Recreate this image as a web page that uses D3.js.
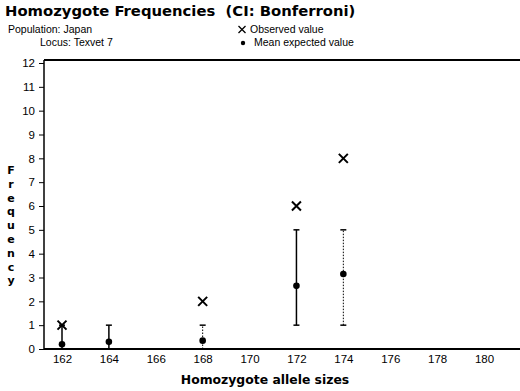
<!DOCTYPE html>
<html>
<head>
<meta charset="utf-8">
<script src="https://cdn.jsdelivr.net/npm/d3@7"></script>
<style>
  html, body { margin: 0; padding: 0; background: #fff; }
  svg { display: block; font-family: "Liberation Sans", Arial, sans-serif; }
  text { white-space: pre; }
</style>
</head>
<body>
<svg id="chart" width="520" height="391"></svg>
<script>
// Allele sizes and their homozygote frequencies
const alleles   = [162, 164, 168, 172, 174];
const observed  = [1, null, 2, 6, 8];
const expected  = [0.2, 0.3, 0.35, 2.65, 3.15];
const ciLow     = [0, 0, 0, 1, 1];
const ciHigh    = [1, 1, 1, 5, 5];
const ciDotted  = [false, false, true, false, true];

const xTicks = [162, 164, 166, 168, 170, 172, 174, 176, 178, 180];
const yTicks = [0, 1, 2, 3, 4, 5, 6, 7, 8, 9, 10, 11, 12];

const svg = d3.select("#chart");
const plotLeft = 44, plotTop = 60, plotRight = 522, plotBottom = 349;
const boldFont = "DejaVu Sans, Verdana, sans-serif";

const x = d3.scaleLinear().domain([162, 180]).range([62, 484]);
const y = d3.scaleLinear().domain([0, 12]).range([plotBottom, 63]);

// Titles
svg.append("text").attr("x", 5).attr("y", 16)
  .attr("font-family", boldFont).attr("font-size", 14.8).attr("font-weight", "bold")
  .text("Homozygote Frequencies  (CI: Bonferroni)");
svg.append("text").attr("x", 8).attr("y", 33).attr("font-size", 10.5)
  .text("Population: Japan");
svg.append("text").attr("x", 40).attr("y", 46).attr("font-size", 10.5)
  .text("Locus: Texvet 7");

// Legend
const lx = 242, ly = 29.5;
svg.append("path")
  .attr("d", `M${lx - 3.5},${ly - 3.5}L${lx + 3.5},${ly + 3.5}M${lx - 3.5},${ly + 3.5}L${lx + 3.5},${ly - 3.5}`)
  .attr("stroke", "#000").attr("stroke-width", 1.3);
svg.append("text").attr("x", 250).attr("y", 33).attr("font-size", 10.5)
  .text("Observed value");
svg.append("circle").attr("cx", 243).attr("cy", 43).attr("r", 2.2);
svg.append("text").attr("x", 254).attr("y", 46).attr("font-size", 10.5)
  .text("Mean expected value");

// Frame: top line
svg.append("line").attr("x1", plotLeft).attr("x2", plotRight).attr("y1", plotTop).attr("y2", plotTop)
  .attr("stroke", "#000").attr("stroke-width", 2);

// Y axis
const yAxis = d3.axisLeft(y).tickValues(yTicks).tickSize(5).tickPadding(4)
  .tickFormat(d3.format("d"));
const gy = svg.append("g").attr("transform", `translate(${plotLeft},0)`).call(yAxis);
gy.select(".domain").attr("d", `M0,${plotTop}V${plotBottom}`).attr("stroke-width", 1.5);
gy.selectAll("text").attr("font-size", 11.5).attr("font-family", "Liberation Sans, Arial, sans-serif");

// X axis
const xAxis = d3.axisBottom(x).tickValues(xTicks).tickSize(0).tickPadding(6)
  .tickFormat(d3.format("d"));
const gx = svg.append("g").attr("transform", `translate(0,${plotBottom})`).call(xAxis);
gx.select(".domain").attr("d", `M${plotLeft},0H${plotRight}`).attr("stroke-width", 2);
gx.selectAll("text").attr("font-size", 11.5).attr("font-family", "Liberation Sans, Arial, sans-serif");

// Axis titles
const yLabel = "Frequency".split("");
svg.append("g").selectAll("text").data(yLabel).join("text")
  .attr("x", 11).attr("y", (d, i) => 174 + i * 13.8)
  .attr("text-anchor", "middle").attr("font-family", boldFont)
  .attr("font-size", 11).attr("font-weight", "bold")
  .text(d => d);
svg.append("text").attr("x", 265).attr("y", 384).attr("text-anchor", "middle")
  .attr("font-family", boldFont).attr("font-size", 12.4).attr("font-weight", "bold")
  .text("Homozygote allele sizes");

// Confidence intervals
const rows = alleles.map((a, i) => ({
  a, obs: observed[i], mean: expected[i], lo: ciLow[i], hi: ciHigh[i], dotted: ciDotted[i]
}));

const ci = svg.append("g").selectAll("g").data(rows).join("g");
ci.append("line")
  .attr("x1", d => x(d.a)).attr("x2", d => x(d.a))
  .attr("y1", d => y(d.lo)).attr("y2", d => y(d.hi))
  .attr("stroke", "#000")
  .attr("stroke-width", d => d.dotted ? 1 : 1.5)
  .attr("stroke-dasharray", d => d.dotted ? "1.5,1.5" : null);
ci.append("line")
  .attr("x1", d => x(d.a) - 3).attr("x2", d => x(d.a) + 3)
  .attr("y1", d => y(d.hi)).attr("y2", d => y(d.hi))
  .attr("stroke", "#000").attr("stroke-width", 1.5);
ci.filter(d => d.lo > 0).append("line")
  .attr("x1", d => x(d.a) - 3).attr("x2", d => x(d.a) + 3)
  .attr("y1", d => y(d.lo)).attr("y2", d => y(d.lo))
  .attr("stroke", "#000").attr("stroke-width", 1.5);

// Mean expected values
svg.append("g").selectAll("circle").data(rows).join("circle")
  .attr("cx", d => x(d.a)).attr("cy", d => y(d.mean)).attr("r", 3.3)
  .attr("fill", "#000");

// Observed values
const sz = 4.5;
svg.append("g").selectAll("path").data(rows.filter(d => d.obs !== null)).join("path")
  .attr("d", d => {
    const cx = x(d.a), cy = y(d.obs);
    return `M${cx - sz},${cy - sz}L${cx + sz},${cy + sz}M${cx - sz},${cy + sz}L${cx + sz},${cy - sz}`;
  })
  .attr("stroke", "#000").attr("stroke-width", 2).attr("fill", "none");
</script>
</body>
</html>
